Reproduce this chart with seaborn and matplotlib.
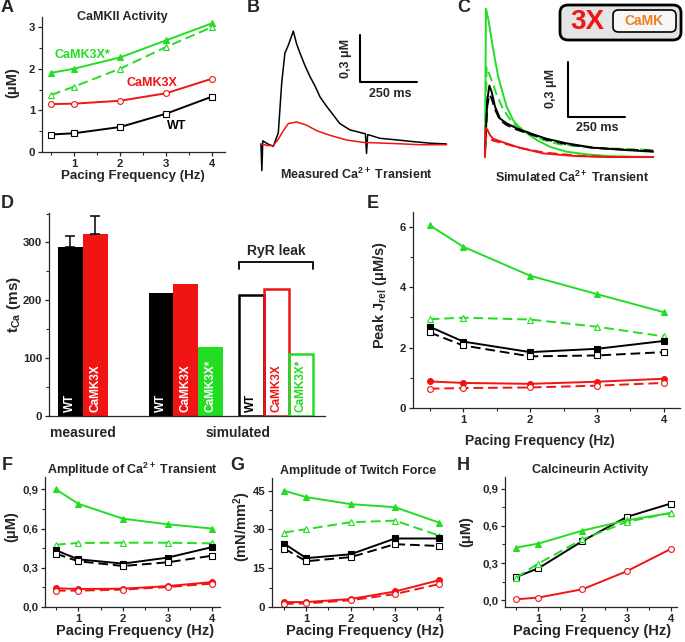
import numpy as np
import pandas as pd
import matplotlib
matplotlib.use("Agg")
import matplotlib.pyplot as plt
import seaborn as sns
from matplotlib.patches import FancyBboxPatch
from matplotlib.ticker import MultipleLocator

# --------------------------
# Values
# --------------------------
freq = [0.5, 1, 2, 3, 4]

# A: CaMKII activity (uM)
a_wt = [0.42, 0.45, 0.60, 0.92, 1.33]
a_3x = [1.15, 1.16, 1.23, 1.41, 1.76]
a_3xs = [1.90, 2.00, 2.27, 2.68, 3.09]
a_3xs_open = [1.37, 1.57, 2.00, 2.52, 3.00]

# B: measured Ca transient (time ms, uM above baseline)
b_t_wt = [0, 4, 8, 30, 54, 76, 91, 105, 120, 142, 156, 171, 193, 215, 237,
          259, 288, 317, 346, 390, 449, 458, 463, 468, 522, 595, 668, 741, 814]
b_wt = [0.0, -0.17, 0.02, 0.0, -0.015, 0.07, 0.39, 0.58, 0.63, 0.72, 0.64, 0.58,
        0.50, 0.43, 0.37, 0.30, 0.24, 0.185, 0.13, 0.09, 0.068, 0.065, -0.06,
        0.06, 0.036, 0.026, 0.015, 0.005, 0.0]
b_t_3x = [0, 30, 54, 76, 98, 120, 156, 200, 244, 303, 376, 449, 595, 700, 814]
b_3x = [0.0, -0.01, -0.01, 0.03, 0.085, 0.13, 0.14, 0.12, 0.085, 0.055, 0.025,
        0.01, 0.002, -0.005, -0.005]

# C: simulated Ca transient
c_t_3xs = [0, 4, 15, 29, 44, 58, 73, 95, 124, 154, 183, 227, 285, 358, 446, 548, 738]
c_3xs = [0.0, 0.81, 0.75, 0.64, 0.53, 0.44, 0.37, 0.275, 0.20, 0.157, 0.13,
         0.093, 0.056, 0.029, 0.015, 0.005, 0.0]
c_t_3xs_d = [0, 7, 29, 51, 80, 124, 183, 256, 329, 475, 738]
c_3xs_d = [0.04, 0.49, 0.42, 0.34, 0.26, 0.18, 0.14, 0.093, 0.069, 0.051, 0.038]
c_t_wt = [0, 10, 19, 29, 44, 66, 95, 139, 197, 270, 358, 475, 621, 738]
c_wt = [0.03, 0.31, 0.39, 0.357, 0.275, 0.21, 0.184, 0.157, 0.13, 0.10, 0.075,
        0.051, 0.038, 0.029]
c_wt_d = [0.03, 0.28, 0.34, 0.32, 0.26, 0.20, 0.175, 0.15, 0.125, 0.095, 0.07,
          0.05, 0.04, 0.035]
c_t_3x = [0, 2, 10, 22, 35, 80, 154, 256, 402, 550, 738]
c_3x = [0.0, 0.16, 0.15, 0.12, 0.10, 0.08, 0.05, 0.02, 0.005, 0.0, 0.0]
c_3x_d = [0.0, 0.12, 0.11, 0.10, 0.09, 0.075, 0.05, 0.025, 0.008, 0.0, 0.0]

# D: t_Ca (ms)
d_groups = ["measured", "simulated", "RyR leak"]
d_strains = ["WT", "CaMK3X", "CaMK3X*"]
d_group = ["measured", "measured", "simulated", "simulated", "simulated"]
d_strain = ["WT", "CaMK3X", "WT", "CaMK3X", "CaMK3X*"]
d_tca = [293, 315, 213, 228, 119]
d_err = [19, 30]
leak_strain = ["WT", "CaMK3X", "CaMK3X*"]
leak_tca = [209, 220, 108]

# E: peak Jrel (uM/s)
e_3xs = [6.05, 5.34, 4.38, 3.77, 3.17]
e_3xs_open = [2.94, 2.99, 2.93, 2.69, 2.37]
e_wt = [2.69, 2.20, 1.85, 1.96, 2.22]
e_wt_open = [2.50, 2.07, 1.71, 1.74, 1.85]
e_3x = [0.88, 0.83, 0.80, 0.87, 0.97]
e_3x_open = [0.64, 0.66, 0.68, 0.74, 0.83]

# F: amplitude of Ca transient (uM)
f_3xs = [0.90, 0.79, 0.676, 0.633, 0.60]
f_3xs_open = [0.477, 0.49, 0.492, 0.492, 0.487]
f_wt = [0.434, 0.365, 0.332, 0.378, 0.459]
f_wt_open = [0.408, 0.35, 0.314, 0.342, 0.393]
f_3x = [0.143, 0.138, 0.14, 0.16, 0.191]
f_3x_open = [0.125, 0.125, 0.133, 0.153, 0.179]

# G: twitch force (mN/mm2)
g_3xs = [45.0, 42.5, 39.8, 38.6, 32.6]
g_3xs_open = [28.8, 30.1, 32.8, 33.4, 27.6]
g_wt = [24.5, 18.9, 20.4, 26.5, 26.5]
g_wt_open = [22.6, 17.7, 19.3, 24.3, 23.6]
g_3x = [1.9, 1.9, 3.1, 6.0, 10.4]
g_3x_open = [1.2, 1.4, 2.6, 5.0, 8.9]

# H: calcineurin activity (uM)
h_3xs = [0.425, 0.457, 0.562, 0.645, 0.704]
h_3xs_open = [0.183, 0.296, 0.492, 0.632, 0.704]
h_wt = [0.188, 0.258, 0.478, 0.672, 0.78]
h_3x = [0.008, 0.022, 0.089, 0.234, 0.414]

GREEN = "#22dd22"
RED = "#f01414"
BLACK = "black"

# --------------------------
# Style
# --------------------------
sns.set_style("ticks")
plt.rcParams["font.family"] = ["Liberation Sans", "DejaVu Sans"]
plt.rcParams["font.weight"] = "bold"
plt.rcParams["axes.labelweight"] = "bold"
plt.rcParams["mathtext.fontset"] = "custom"
plt.rcParams["mathtext.rm"] = "Liberation Sans:bold"
plt.rcParams["mathtext.bf"] = "Liberation Sans:bold"
plt.rcParams["mathtext.it"] = "Liberation Sans:bold"
plt.rcParams["mathtext.default"] = "bf"

W, H = 685, 642
fig = plt.figure(figsize=(W / 100, H / 100), dpi=100)


def add_ax(box):
    l, t, r, b = box
    return fig.add_axes([l / W, 1 - b / H, (r - l) / W, (b - t) / H])


def ftext(x, y, s, **kw):
    kw.setdefault("ha", "center")
    kw.setdefault("va", "center")
    kw.setdefault("fontweight", "bold")
    return fig.text(x / W, 1 - y / H, s, **kw)


def to_axes(box, x, y):
    l, t, r, b = box
    return (x - l) / (r - l), (b - y) / (b - t)


def style_axes(ax, xmin=0.5, ymin=None):
    sns.despine(ax=ax)
    for s in ["left", "bottom"]:
        ax.spines[s].set_linewidth(0.9)
    ax.tick_params(which="major", length=3, width=0.9, labelsize=8.2, pad=1.8)
    ax.tick_params(which="minor", length=2, width=0.8)
    if xmin:
        ax.xaxis.set_minor_locator(MultipleLocator(xmin))
    if ymin:
        ax.yaxis.set_minor_locator(MultipleLocator(ymin))


def labels(ax, box, xlab, xpos, ylab, ypos, xsize=10, ysize=10.5):
    if xlab:
        ax.set_xlabel(xlab, fontsize=xsize, va="center")
        ax.xaxis.set_label_coords(*to_axes(box, *xpos))
    ax.set_ylabel(ylab, fontsize=ysize, va="center")
    ax.yaxis.set_label_coords(*to_axes(box, *ypos))


def series(ax, y, color, dashed, marker, filled):
    sns.lineplot(x=freq, y=y, ax=ax, color=color, lw=1.4,
                 linestyle="--" if dashed else "-",
                 marker=marker, markersize=4.2,
                 markerfacecolor=color if filled else "white",
                 markeredgecolor=color, markeredgewidth=0.8)
    if dashed:
        ax.lines[-1].set_dashes([5, 2.5])


def comma(ax, fmt="{:.1f}"):
    ax.set_yticklabels([fmt.format(v).replace(".", ",") for v in ax.get_yticks()])


# --------------------------
# A
# --------------------------
box_a = (42, 17, 225, 152)
ax = add_ax(box_a)
series(ax, a_wt, BLACK, False, "s", False)
series(ax, a_3x, RED, False, "o", False)
series(ax, a_3xs, GREEN, False, "^", True)
series(ax, a_3xs_open, GREEN, True, "^", False)
ax.set_xlim(0.3, 4.28)
ax.set_ylim(0, 3.24)
ax.set_xticks([1, 2, 3, 4])
ax.set_yticks([0, 1, 2, 3])
style_axes(ax, 0.5, 0.5)
labels(ax, box_a, "Pacing Frequency (Hz)", (133, 176), "(μM)", (12, 83), xsize=9.6)
ftext(122, 17, "CaMKII Activity", fontsize=9)
ftext(82, 55, "CaMK3X*", fontsize=9, color=GREEN)
ftext(152, 83, "CaMK3X", fontsize=9, color=RED)
ftext(177, 126, "WT", fontsize=9, color=BLACK)

# --------------------------
# B
# --------------------------
box_b = (258, 25, 455, 175)
ax = add_ax(box_b)
sns.lineplot(x=b_t_wt, y=b_wt, ax=ax, color=BLACK, lw=1.1, sort=False)
sns.lineplot(x=b_t_3x, y=b_3x, ax=ax, color=RED, lw=1.1, sort=False)
ax.plot([434, 434, 684], [0.696, 0.396, 0.396], color="black", lw=1.5)
ax.set_xlim(-13, 851)
ax.set_ylim(-0.198, 0.759)
ax.axis("off")
ftext(346, 58, "0,3 μM", fontsize=9, rotation=90)
ftext(390, 94, "250 ms", fontsize=9)
ftext(356, 174, "Measured Ca$^{2+}$ Transient", fontsize=9)

# --------------------------
# C
# --------------------------
box_c = (480, 5, 660, 162)
ax = add_ax(box_c)
sns.lineplot(x=c_t_3xs, y=c_3xs, ax=ax, color=GREEN, lw=1.4, sort=False)
sns.lineplot(x=c_t_3xs_d, y=c_3xs_d, ax=ax, color=GREEN, lw=1.4, sort=False,
             linestyle="--")
sns.lineplot(x=c_t_wt, y=c_wt, ax=ax, color=BLACK, lw=1.4, sort=False)
sns.lineplot(x=c_t_wt, y=c_wt_d, ax=ax, color=BLACK, lw=1.4, sort=False,
             linestyle="--")
sns.lineplot(x=c_t_3x, y=c_3x, ax=ax, color=RED, lw=1.4, sort=False)
sns.lineplot(x=c_t_3x, y=c_3x_d, ax=ax, color=RED, lw=1.4, sort=False,
             linestyle="--")
for ln in ax.lines:
    if ln.get_linestyle() == "--":
        ln.set_dashes([5, 2.5])
ax.plot([364, 364, 614], [0.519, 0.219, 0.219], color="black", lw=1.5)
ax.set_xlim(-22, 768)
ax.set_ylim(-0.027, 0.83)
ax.axis("off")
ftext(551, 88, "0,3 μM", fontsize=9, rotation=90)
ftext(597, 128, "250 ms", fontsize=9)
ftext(572, 177, "Simulated Ca$^{2+}$ Transient", fontsize=9)

outer = FancyBboxPatch((560 / W, 1 - 40 / H), 121 / W, 35 / H,
                       boxstyle="round,pad=0,rounding_size=0.012",
                       transform=fig.transFigure, facecolor="#e4e4e4",
                       edgecolor="black", lw=2, zorder=5)
inner = FancyBboxPatch((613 / W, 1 - 32 / H), 63 / W, 22 / H,
                       boxstyle="round,pad=0,rounding_size=0.008",
                       transform=fig.transFigure, facecolor="#f7f7f7",
                       edgecolor="black", lw=1.2, zorder=6)
fig.patches.extend([outer, inner])
ftext(587, 22, "3X", fontsize=20, color=RED, zorder=7)
ftext(644, 21, "CaMK", fontsize=10, color="#f07f22", zorder=7)

# --------------------------
# D
# --------------------------
box_d = (49, 213, 325, 416)
ax = add_ax(box_d)
pal = dict(zip(d_strains, [BLACK, RED, GREEN]))
df_d = pd.DataFrame({"group": d_group, "strain": d_strain, "tca": d_tca})
df_leak = pd.DataFrame({"group": "RyR leak", "strain": leak_strain, "tca": leak_tca})
sns.barplot(data=df_d, x="group", y="tca", hue="strain", order=d_groups,
            hue_order=d_strains, palette=pal, width=0.82, gap=0, linewidth=0,
            saturation=1, legend=False, ax=ax)
sns.barplot(data=df_leak, x="group", y="tca", hue="strain", order=d_groups,
            hue_order=d_strains, palette=pal, width=0.82, gap=0, fill=False,
            saturation=1, linewidth=1.8, legend=False, ax=ax)

all_tca = d_tca + leak_tca
all_strain = d_strain + leak_strain
is_leak = [False] * len(d_tca) + [True] * len(leak_tca)
meas_x = {}
leak_edges = []
for p in ax.patches:
    h = p.get_height()
    if not np.isfinite(h) or h == 0:
        continue
    i = int(np.argmin([abs(h - v) for v in all_tca]))
    xc = p.get_x() + p.get_width() / 2
    s = all_strain[i]
    col = pal[s] if is_leak[i] else "white"
    ax.text(xc, 7, s, rotation=90, ha="center", va="bottom", color=col,
            fontsize=8.5, fontweight="bold")
    if i < 2:
        meas_x[i] = xc
    if is_leak[i]:
        leak_edges += [p.get_x(), p.get_x() + p.get_width()]

ax.errorbar([meas_x[0], meas_x[1]], d_tca[:2], yerr=[[0, 0], d_err],
            fmt="none", ecolor="black", elinewidth=1.1, capsize=3.5, capthick=1.1)
x0, x1 = min(leak_edges), max(leak_edges)
ax.plot([x0, x0, x1, x1], [254, 267, 267, 254], color="black", lw=1.3)
ax.text((x0 + x1) / 2, 286, "RyR leak", ha="center", va="center",
        fontsize=10, fontweight="bold")
ax.set_xlim(-0.51, 2.54)
ax.set_ylim(0, 351)
ax.set_yticks([0, 100, 200, 300])
ax.set_xticks([])
style_axes(ax, None, 50)
ax.set_xlabel("")
labels(ax, box_d, None, None, "t$_{Ca}$ (ms)", (14, 305), ysize=11)
ftext(83, 433, "measured", fontsize=10)
ftext(238, 433, "simulated", fontsize=10)

# --------------------------
# E
# --------------------------
box_e = (413, 212, 680, 408)
ax = add_ax(box_e)
series(ax, e_3xs, GREEN, False, "^", True)
series(ax, e_3xs_open, GREEN, True, "^", False)
series(ax, e_wt, BLACK, False, "s", True)
series(ax, e_wt_open, BLACK, True, "s", False)
series(ax, e_3x, RED, False, "o", True)
series(ax, e_3x_open, RED, True, "o", False)
ax.set_xlim(0.25, 4.24)
ax.set_ylim(0, 6.49)
ax.set_xticks([1, 2, 3, 4])
ax.set_yticks([0, 2, 4, 6])
style_axes(ax, 0.5, 1)
labels(ax, box_e, "Pacing Frequency (Hz)", (540, 441),
       "Peak J$_{rel}$ (μM/s)", (380, 295))

# --------------------------
# F, G, H
# --------------------------
def freq_panel(box, lines, ylim, yticks, ylab, ylab_pos, title, title_pos,
               xlab_pos, xlim, ymin, comma_fmt):
    ax = add_ax(box)
    for y, c, d, m, f in lines:
        series(ax, y, c, d, m, f)
    ax.set_xlim(*xlim)
    ax.set_ylim(*ylim)
    ax.set_xticks([1, 2, 3, 4])
    ax.set_yticks(yticks)
    style_axes(ax, 0.5, ymin)
    if comma_fmt:
        comma(ax)
    labels(ax, box, "Pacing Frequency (Hz)", xlab_pos, ylab, ylab_pos, xsize=10.5)
    ftext(*title_pos, title, fontsize=9)
    return ax


freq_panel((45, 477, 220, 607),
           [(f_3xs, GREEN, False, "^", True), (f_3xs_open, GREEN, True, "^", False),
            (f_wt, BLACK, False, "s", True), (f_wt_open, BLACK, True, "s", False),
            (f_3x, RED, False, "o", True), (f_3x_open, RED, True, "o", False)],
           (0, 0.995), [0, 0.3, 0.6, 0.9], "(μM)", (11, 527),
           "Amplitude of Ca$^{2+}$ Transient", (132, 470), (135, 631),
           (0.255, 4.17), 0.15, True)

freq_panel((272, 478, 443, 607),
           [(g_3xs, GREEN, False, "^", True), (g_3xs_open, GREEN, True, "^", False),
            (g_wt, BLACK, False, "s", True), (g_wt_open, BLACK, True, "s", False),
            (g_3x, RED, False, "o", True), (g_3x_open, RED, True, "o", False)],
           (0, 49.9), [0, 15, 30, 45], "(mN/mm$^{2}$)", (242, 527),
           "Amplitude of Twitch Force", (358, 471), (365, 631),
           (0.227, 4.08), 7.5, False)

freq_panel((505, 477, 677, 607),
           [(h_wt, BLACK, False, "s", False), (h_3xs, GREEN, False, "^", True),
            (h_3xs_open, GREEN, True, "^", False), (h_3x, RED, False, "o", False)],
           (-0.054, 0.994), [0, 0.3, 0.6, 0.9], "(μM)", (466, 532),
           "Calcineurin Activity", (590, 470), (592, 631),
           (0.245, 4.14), 0.15, True)

# --------------------------
# Panel letters
# --------------------------
for letter, x, y in [("A", 7, 7), ("B", 253, 8), ("C", 464, 8), ("D", 7, 203),
                     ("E", 373, 203), ("F", 7, 465), ("G", 237, 465),
                     ("H", 463, 465)]:
    ftext(x, y, letter, fontsize=13)

fig.savefig("out.png", dpi=100)
